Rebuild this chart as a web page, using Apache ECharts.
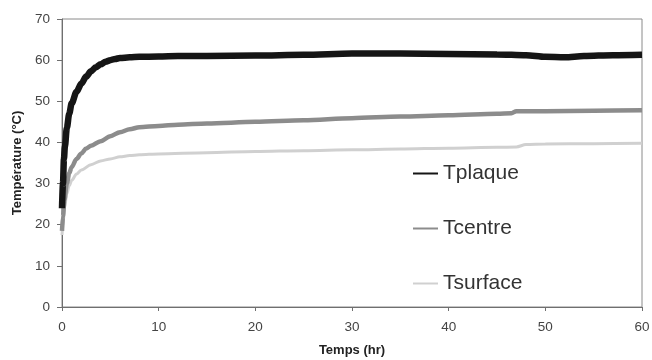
<!DOCTYPE html>
<html>
<head>
<meta charset="utf-8">
<script src="https://cdn.jsdelivr.net/npm/echarts@6/dist/echarts.min.js"></script>
<style>
  html, body { margin: 0; padding: 0; background: #fff; }
  #chart { width: 652px; height: 360px; }
</style>
</head>
<body>
<div id="chart"></div>
<script>
// Time (hr) and temperature (°C) readings for each probe
const tPlaque = [0, 0.1, 0.2, 0.3, 0.5, 0.75, 1, 1.5, 2, 2.5, 3, 3.5, 4, 4.5, 5, 5.5, 6, 7, 8, 10, 12, 15, 20, 25, 30, 35, 40, 45, 48, 50, 52, 54, 57, 60];
const vPlaque = [24, 30, 36, 39, 43.5, 47, 49.5, 52.3, 54.3, 56, 57.3, 58.3, 59, 59.6, 60, 60.3, 60.5, 60.7, 60.8, 60.9, 61, 61, 61.1, 61.3, 61.6, 61.6, 61.5, 61.4, 61.2, 60.8, 60.7, 61.0, 61.2, 61.3];

const tCentre = [0, 0.1, 0.25, 0.5, 0.75, 1, 1.5, 2, 2.5, 3, 4, 5, 6, 7, 8, 10, 12, 15, 20, 25, 30, 35, 40, 45, 46.5, 47, 50, 55, 60];
const vCentre = [18.5, 22, 26, 30, 32.5, 34, 36, 37.3, 38.5, 39.2, 40.3, 41.5, 42.5, 43.2, 43.7, 44, 44.3, 44.6, 45, 45.4, 45.9, 46.3, 46.6, 47, 47.1, 47.6, 47.6, 47.7, 47.8];

const tSurface = [0, 0.1, 0.25, 0.5, 0.75, 1, 1.5, 2, 3, 4, 5, 6, 7, 8, 10, 15, 20, 25, 30, 35, 40, 45, 47, 48, 50, 55, 60];
const vSurface = [17.5, 20, 24, 27.5, 29.5, 30.8, 32.3, 33.3, 34.6, 35.5, 36, 36.5, 36.8, 37, 37.2, 37.5, 37.8, 38, 38.2, 38.4, 38.6, 38.8, 38.9, 39.5, 39.6, 39.7, 39.8];

const seriesNames = ['Tplaque', 'Tcentre', 'Tsurface'];
const xTicks = [0, 10, 20, 30, 40, 50, 60];
const yTicks = [0, 10, 20, 30, 40, 50, 60, 70];

const pairs = (xs, ys) => xs.map((x, i) => [x, ys[i]]);

const chart = echarts.init(document.getElementById('chart'), null, { renderer: 'canvas' });
const font = '"Liberation Sans", Arial, sans-serif';

chart.setOption({
  animation: false,
  backgroundColor: '#fff',
  grid: {
    left: 62, right: 10, top: 19, bottom: 53,
    containLabel: false, outerBoundsMode: 'none',
    show: true, borderColor: '#8a8a8a', borderWidth: 1, backgroundColor: 'transparent'
  },
  legend: {
    orient: 'vertical',
    left: 413, top: 163, padding: 0,
    itemWidth: 25, itemHeight: 2, itemGap: 34,
    icon: 'rect',
    data: seriesNames,
    textStyle: { fontFamily: font, fontSize: 21, color: '#333' }
  },
  xAxis: {
    type: 'value',
    min: xTicks[0], max: xTicks[xTicks.length - 1], interval: 10,
    name: 'Temps (hr)', nameLocation: 'middle', nameGap: 37,
    nameTextStyle: { fontFamily: font, fontSize: 13, fontWeight: 'bold', color: '#222' },
    axisLine: { lineStyle: { color: '#6f6f6f', width: 1 } },
    axisTick: { show: true, length: 4, lineStyle: { color: '#6f6f6f' } },
    axisLabel: { fontFamily: font, fontSize: 13.5, color: '#444', margin: 13 },
    splitLine: { show: false }
  },
  yAxis: {
    type: 'value',
    min: yTicks[0], max: yTicks[yTicks.length - 1], interval: 10,
    name: 'Température (°C)', nameLocation: 'middle', nameGap: 37, nameRotate: 90,
    nameTextStyle: { fontFamily: font, fontSize: 13, fontWeight: 'bold', color: '#222' },
    axisLine: { show: true, lineStyle: { color: '#6f6f6f', width: 1 } },
    axisTick: { show: true, length: 5, lineStyle: { color: '#6f6f6f' } },
    axisLabel: { fontFamily: font, fontSize: 13.5, color: '#444', margin: 12 },
    splitLine: { show: false }
  },
  series: [
    {
      name: seriesNames[0], type: 'line', data: pairs(tPlaque, vPlaque),
      showSymbol: false, smooth: 0.3, smoothMonotone: 'x',
      lineStyle: { color: '#151515', width: 6.5 }, itemStyle: { color: '#151515' }, z: 4
    },
    {
      name: seriesNames[1], type: 'line', data: pairs(tCentre, vCentre),
      showSymbol: false, smooth: 0.3, smoothMonotone: 'x',
      lineStyle: { color: '#8c8c8c', width: 4.5 }, itemStyle: { color: '#8c8c8c' }, z: 3
    },
    {
      name: seriesNames[2], type: 'line', data: pairs(tSurface, vSurface),
      showSymbol: false, smooth: 0.3, smoothMonotone: 'x',
      lineStyle: { color: '#d0d0d0', width: 3 }, itemStyle: { color: '#d0d0d0' }, z: 2
    }
  ]
});
</script>
</body>
</html>
